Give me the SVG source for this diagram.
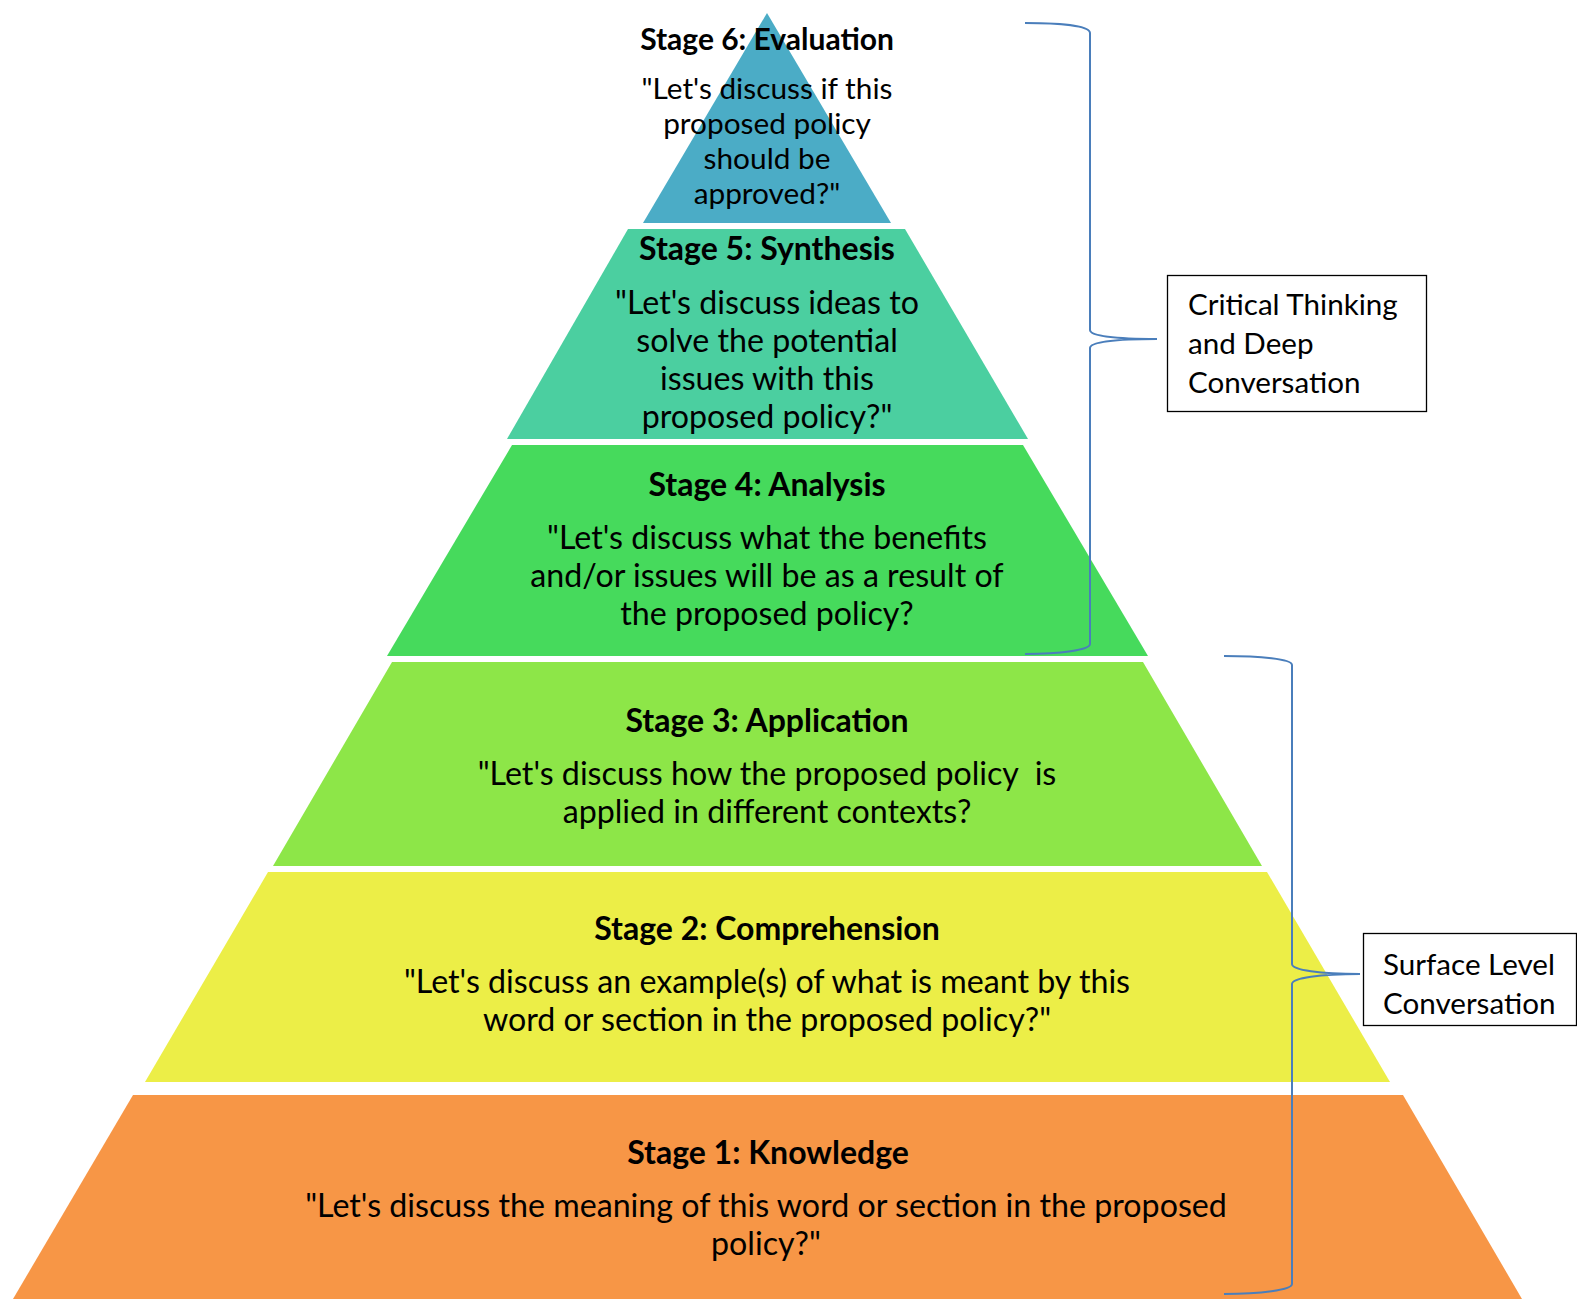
<svg xmlns="http://www.w3.org/2000/svg" width="1577" height="1299" viewBox="0 0 1577 1299">
<style>
text{font-family:Lato,"Open Sans","Liberation Sans",sans-serif;fill:#000;text-anchor:middle}
.t{font-weight:bold;font-size:32px}
.t6{font-weight:bold;font-size:30px}
.b{font-size:32.2px}
.b6{font-size:29.8px}
.lbl{font-size:29.6px;text-anchor:start}
.brace{fill:none;stroke:#4A7EBB;stroke-width:2}
.box{fill:#fff;stroke:#000;stroke-width:1.3}
</style>
<rect width="1577" height="1299" fill="#fff"/>
<g id="stage1">
<polygon points="133,1095 1403,1095 1522,1299 13,1299" fill="#F79646"/>
<text class="t" x="768" y="1164">Stage 1: Knowledge</text>
<text class="b" x="766" y="1217">"Let's discuss the meaning of this word or section in the proposed</text>
<text class="b" x="766" y="1255">policy?"</text>
</g>
<g id="stage2">
<polygon points="268,872 1267,872 1390,1082 145,1082" fill="#ECEE47"/>
<text class="t" x="767" y="940">Stage 2: Comprehension</text>
<text class="b" x="767" y="993">"Let's discuss an example(s) of what is meant by this</text>
<text class="b" x="767" y="1031">word or section in the proposed policy?"</text>
</g>
<g id="stage3">
<polygon points="392,662 1143,662 1262,866 273,866" fill="#8DE648"/>
<text class="t" x="767" y="732">Stage 3: Application</text>
<text class="b" x="767" y="785" xml:space="preserve">"Let's discuss how the proposed policy  is</text>
<text class="b" x="767" y="823">applied in different contexts?</text>
</g>
<g id="stage4">
<polygon points="512,445 1023,445 1148,656 387,656" fill="#46DA5C"/>
<text class="t" x="767" y="496">Stage 4: Analysis</text>
<text class="b" x="767" y="549">"Let's discuss what the benefits</text>
<text class="b" x="767" y="587">and/or issues will be as a result of</text>
<text class="b" x="767" y="625">the proposed policy?</text>
</g>
<g id="stage5">
<polygon points="628,229 905,229 1028,439 507,439" fill="#4BCFA0"/>
<text class="t" x="767" y="260">Stage 5: Synthesis</text>
<text class="b" x="767" y="314">"Let's discuss ideas to</text>
<text class="b" x="767" y="352">solve the potential</text>
<text class="b" x="767" y="390">issues with this</text>
<text class="b" x="767" y="428">proposed policy?"</text>
</g>
<g id="stage6">
<polygon points="767,13 891,223 643,223" fill="#4BACC6"/>
<text class="t6" x="767" y="50">Stage 6: Evaluation</text>
<text class="b6" x="767" y="99">"Let's discuss if this</text>
<text class="b6" x="767" y="134">proposed policy</text>
<text class="b6" x="767" y="169">should be</text>
<text class="b6" x="767" y="204">approved?"</text>
</g>
<g id="connectors">
<path class="brace" d="M1025,23 C1060,23 1090,26 1090,33 L1090,330 C1090,336 1115,339 1157,339 C1115,339 1090,342 1090,348 L1090,644 C1090,650 1060,654 1025,654"/>
<path class="brace" d="M1224,656 C1260,656 1292,659 1292,665 L1292,964 C1292,970 1320,974 1360,974 C1320,974 1292,978 1292,984 L1292,1284 C1292,1290 1260,1294 1224,1294"/>
</g>
<g id="label-critical">
<rect class="box" x="1167.5" y="275.5" width="259" height="136"/>
<text class="lbl" x="1188" y="315">Critical Thinking</text>
<text class="lbl" x="1188" y="354">and Deep</text>
<text class="lbl" x="1188" y="393">Conversation</text>
</g>
<g id="label-surface">
<rect class="box" x="1363.5" y="933.5" width="213" height="92"/>
<text class="lbl" x="1383" y="975">Surface Level</text>
<text class="lbl" x="1383" y="1014">Conversation</text>
</g>
</svg>
